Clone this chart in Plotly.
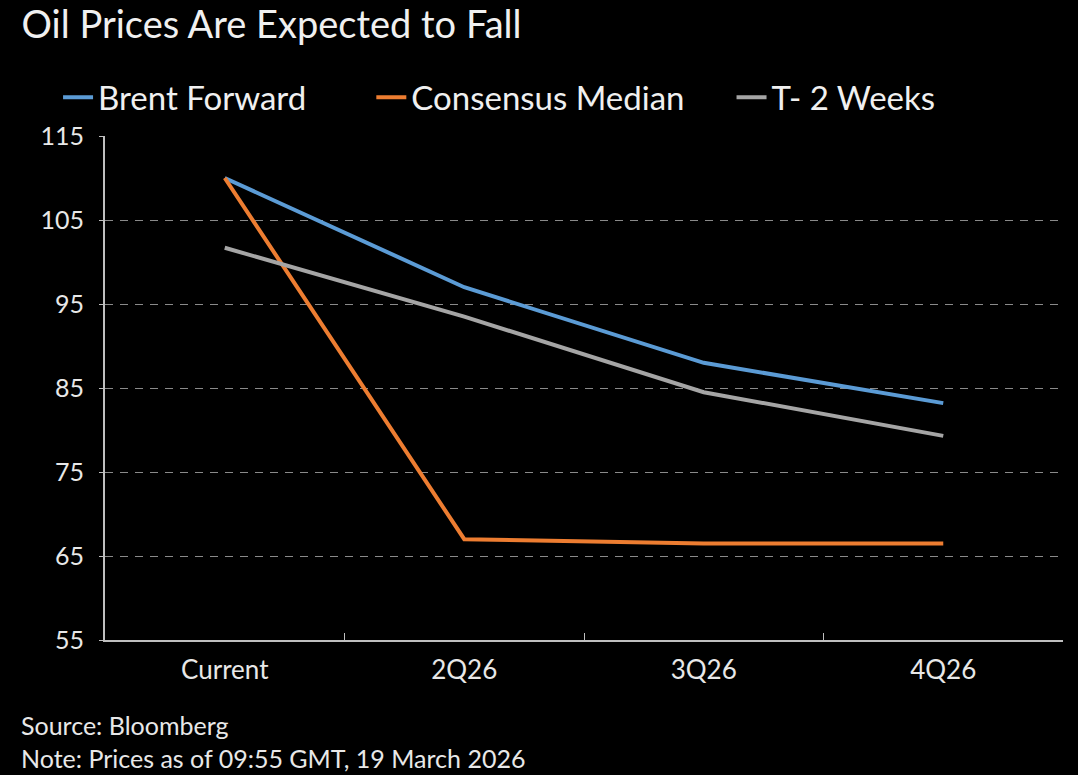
import plotly.graph_objects as go

categories = ["Current", "2Q26", "3Q26", "4Q26"]
brent_forward = [110.0, 97.0, 88.0, 83.2]
consensus_median = [110.0, 67.0, 66.5, 66.5]
t_minus_2_weeks = [101.7, 93.5, 84.5, 79.3]
y_ticks = [55, 65, 75, 85, 95, 105, 115]

FONT = "Lato"
fig = go.Figure()
series = [
    ("Brent Forward", brent_forward, "#5B9BD5", "legend", -0.049),
    ("Consensus Median", consensus_median, "#ED7D31", "legend2", 0.278),
    ("T- 2 Weeks", t_minus_2_weeks, "#A5A5A5", "legend3", 0.654),
]
legend_cfg = {}
for name, vals, col, leg, lx in series:
    fig.add_trace(go.Scatter(x=categories, y=vals, name=name, mode="lines",
                             line=dict(color=col, width=4), legend=leg))
    legend_cfg[leg] = dict(orientation="h", x=lx, xanchor="left", y=1.077, yanchor="middle",
                           font=dict(size=33, color="#f0f0f0"), bgcolor="rgba(0,0,0,0)",
                           itemwidth=30)

fig.update_layout(
    width=1078, height=775,
    paper_bgcolor="black", plot_bgcolor="black",
    margin=dict(l=105, r=15, t=136, b=135),
    font=dict(family=FONT, color="#e8e8e8", size=24),
    title=dict(text="Oil Prices Are Expected to Fall", x=0.02, xanchor="left",
               y=0.985, yanchor="top", font=dict(size=38, color="#f0f0f0", family=FONT)),
    showlegend=True,
    **legend_cfg,
)
fig.update_xaxes(type="category", range=[-0.5, 3.5], showgrid=False,
                 showline=True, linecolor="#bfbfbf", linewidth=2,
                 ticks="inside", tickson="boundaries", ticklen=7, tickcolor="#bfbfbf",
                 tickfont=dict(size=26), ticklabelstandoff=6)
fig.update_yaxes(range=[55, 115], tickvals=y_ticks, showgrid=True,
                 gridcolor="#8a8a8a", griddash="8px,7px", gridwidth=1,
                 showline=True, linecolor="#bfbfbf", linewidth=2,
                 ticks="outside", ticklen=4, tickcolor="#bfbfbf",
                 tickfont=dict(size=25), ticklabelstandoff=10, zeroline=False)

fig.add_annotation(text="Source: Bloomberg", xref="paper", yref="paper",
                   x=-0.09, y=-0.168, xanchor="left", yanchor="middle",
                   showarrow=False, font=dict(size=25, color="#e8e8e8"))
fig.add_annotation(text="Note: Prices as of 09:55 GMT, 19 March 2026", xref="paper", yref="paper",
                   x=-0.09, y=-0.234, xanchor="left", yanchor="middle",
                   showarrow=False, font=dict(size=25, color="#e8e8e8"))

fig.write_html("out.html")
